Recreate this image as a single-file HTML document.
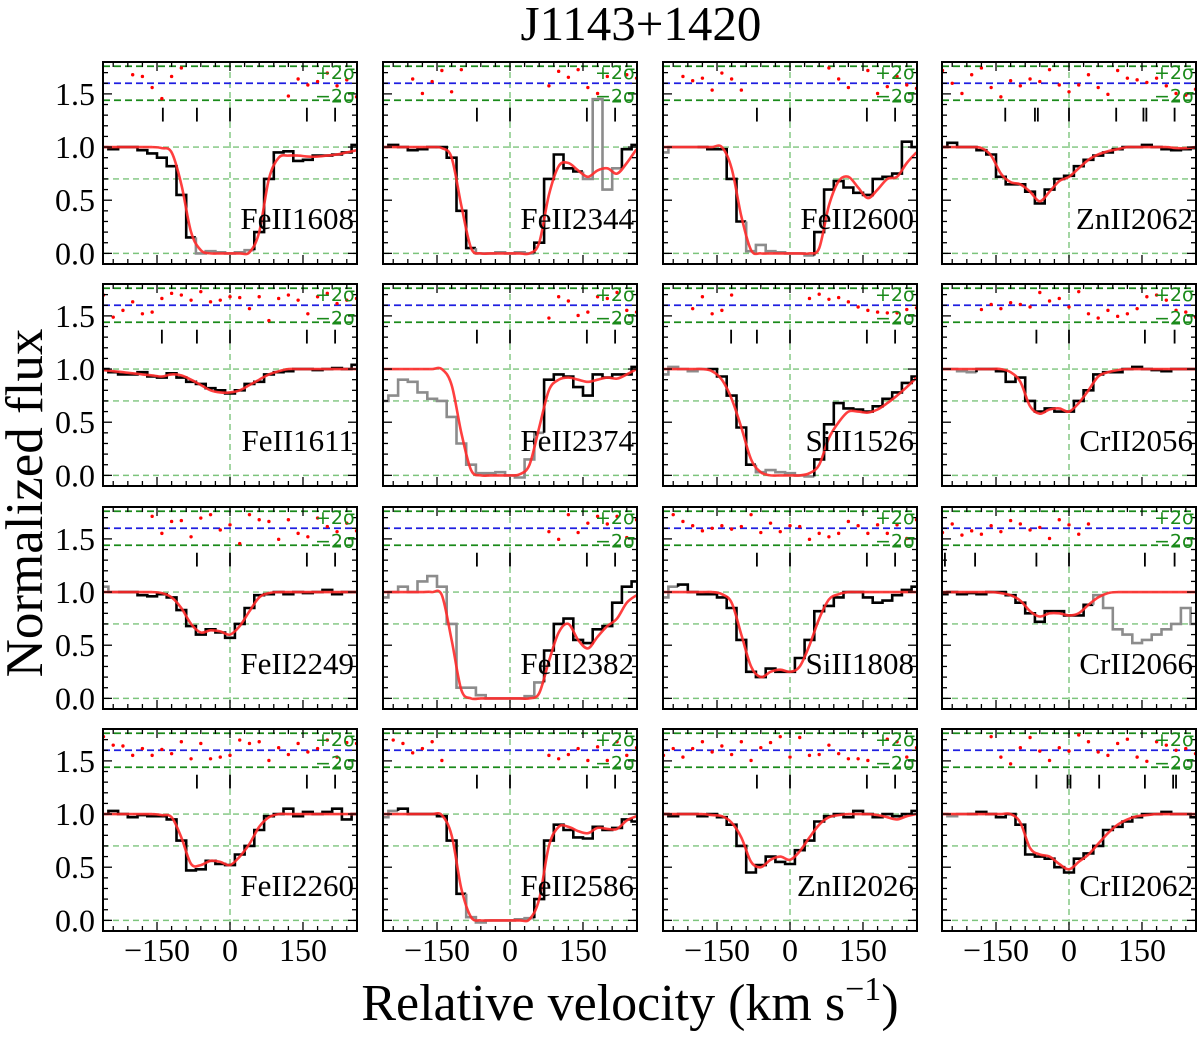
<!DOCTYPE html>
<html><head><meta charset="utf-8"><style>
html,body{margin:0;padding:0;background:#fff;width:1200px;height:1037px;overflow:hidden}
svg{display:block;font-family:"Liberation Serif",serif}
</style></head><body>
<svg id="chart" width="1200" height="1037" viewBox="0 0 1200 1037" xmlns="http://www.w3.org/2000/svg">
<text x="641" y="40" font-size="49" text-anchor="middle">J1143+1420</text>
<text transform="translate(42,503) rotate(-90)" font-size="53" text-anchor="middle">Normalized flux</text>
<text x="630" y="1020" font-size="52" text-anchor="middle">Relative velocity (km s<tspan dy="-20" font-size="34">−1</tspan><tspan dy="20">)</tspan></text>
<g id="panels"></g>
</svg>
<script>
// velocity grid: -260..260 step 20 (27 bins)
const velocities = [-260,-240,-220,-200,-180,-160,-140,-120,-100,-80,-60,-40,-20,0,20,40,60,80,100,120,140,160,180,200,220,240,260];
const ions = ["FeII1608","FeII2344","FeII2600","ZnII2062","FeII1611","FeII2374","SiII1526","CrII2056","FeII2249","FeII2382","SiII1808","CrII2066","FeII2260","FeII2586","ZnII2026","CrII2062"];
const modelFlux = [
[1,1,1,1,1,1,0.99,0.95,0.65,0.2,0.03,0,0,0,0,0.01,0.2,0.7,0.9,0.92,0.92,0.91,0.91,0.92,0.93,0.95,0.97],
[1,1,1,1,1,1,0.99,0.9,0.45,0.05,0,0,0,0,0,0,0.1,0.55,0.82,0.85,0.78,0.72,0.78,0.8,0.75,0.85,0.98],
[1,1,1,1,1,1,1,0.8,0.35,0.03,0,0,0,0,0,0,0.05,0.45,0.68,0.72,0.62,0.52,0.6,0.7,0.72,0.85,0.95],
[1,1,1,1,0.99,0.92,0.75,0.67,0.65,0.58,0.49,0.58,0.68,0.72,0.8,0.88,0.93,0.96,0.98,1,1,1,1,1,0.99,0.99,1],
[0.99,0.98,0.97,0.96,0.95,0.94,0.93,0.95,0.94,0.9,0.85,0.8,0.78,0.78,0.8,0.85,0.9,0.95,0.98,1,1,1,1,1,1,1,1],
[1,1,1,1,1,1,1,0.85,0.4,0.05,0,0,0,0,0.01,0.1,0.45,0.8,0.9,0.92,0.9,0.88,0.9,0.92,0.91,0.95,1],
[1,1,1,1,1,0.98,0.9,0.72,0.45,0.15,0.03,0,0,0,0,0.02,0.1,0.35,0.5,0.6,0.6,0.59,0.62,0.68,0.75,0.83,0.92],
[1,1,1,1,1,1,1,0.97,0.88,0.65,0.58,0.62,0.63,0.6,0.68,0.8,0.93,0.97,0.99,1,1,1,1,1,1,1,1],
[1,1,1,1,1,1,0.99,0.95,0.85,0.7,0.62,0.64,0.63,0.6,0.68,0.82,0.95,0.99,1,1,1,1,1,1,1,1,1],
[1,1,1,1,1,1,0.97,0.55,0.08,0,0,0,0,0,0,0,0.05,0.35,0.62,0.7,0.55,0.47,0.58,0.68,0.75,0.9,0.97],
[1,1,1,1,1,1,0.98,0.9,0.6,0.3,0.2,0.25,0.27,0.25,0.3,0.5,0.75,0.93,0.98,1,1,1,1,1,1,1,1],
[1,1,1,1,1,1,0.99,0.97,0.92,0.82,0.77,0.8,0.8,0.78,0.8,0.88,0.95,0.99,1,1,1,1,1,1,1,1,1],
[1,1,1,1,1,1,0.99,0.97,0.78,0.53,0.52,0.56,0.55,0.52,0.6,0.72,0.88,0.97,1,1,1,1,1,1,1,1,1],
[1,1,1,1,1,1,0.99,0.8,0.3,0.03,0,0,0,0,0,0.01,0.2,0.7,0.88,0.88,0.84,0.82,0.87,0.86,0.86,0.94,0.98],
[1,1,1,1,1,0.99,0.98,0.92,0.78,0.55,0.5,0.57,0.6,0.57,0.65,0.78,0.9,0.97,0.99,1,1,1,0.99,0.97,0.95,0.98,1],
[1,1,1,1,1,1,1,1,0.92,0.68,0.62,0.6,0.53,0.48,0.55,0.62,0.72,0.82,0.9,0.95,0.98,0.99,1,1,1,1,1]
];
const dataFlux = [
[1,0.98,1,1,0.97,0.94,0.9,0.82,0.55,0.15,0,0.02,0.01,0,0.01,0.03,0.2,0.7,0.95,0.96,0.87,0.88,0.92,0.92,0.93,0.95,1.02],
[1,1.02,1,0.97,0.98,1,1,0.9,0.4,0.05,0,0,0.01,0,0.01,0,0.1,0.7,0.93,0.8,0.77,0.7,1.45,0.6,0.8,0.98,1.02],
[0.95,1,1,1,1,0.98,0.98,0.7,0.3,0.02,0.08,0.02,0.01,0,0,-0.02,0.2,0.6,0.68,0.62,0.57,0.55,0.7,0.72,0.75,1.05,1],
[1,1.04,1,1,0.97,0.93,0.72,0.65,0.65,0.58,0.47,0.6,0.7,0.73,0.82,0.88,0.92,0.95,0.98,1,1,1.02,1,0.98,0.97,0.98,0.99],
[1,0.97,0.95,0.95,0.97,0.93,0.92,0.96,0.92,0.88,0.86,0.82,0.8,0.77,0.8,0.86,0.88,0.95,0.97,0.98,1,1,0.99,1,1.01,1,1.04],
[0.7,0.75,0.9,0.88,0.78,0.72,0.7,0.55,0.3,0.1,0.02,0.02,0.03,0,-0.02,0.15,0.4,0.9,0.95,0.93,0.83,0.75,0.95,0.92,0.95,0.95,1.02],
[0.95,1.02,1,0.98,1,1,0.93,0.75,0.45,0.1,0.03,0.05,0.03,0.02,0,-0.01,0.15,0.48,0.68,0.63,0.62,0.6,0.65,0.72,0.78,0.87,0.93],
[1,1,0.98,0.97,1,1,0.98,0.88,0.92,0.7,0.6,0.63,0.6,0.6,0.7,0.8,0.95,0.97,0.97,1,1.02,1,0.99,0.98,1,1,1],
[1.05,1,1,1,0.97,0.96,0.98,0.95,0.83,0.68,0.6,0.65,0.62,0.57,0.7,0.85,0.97,0.98,1,0.98,1,0.99,1,1.02,0.98,1,1],
[0.95,1,1.05,1,1.1,1.15,1.05,0.7,0.1,0.1,0.03,0,0,0,0,0.02,0.15,0.45,0.7,0.75,0.55,0.52,0.65,0.68,0.9,1.05,1.1],
[0.95,1.05,1.07,1,0.98,0.98,0.95,0.85,0.55,0.25,0.2,0.28,0.25,0.25,0.38,0.55,0.82,0.87,0.95,1,1,0.95,0.9,0.92,0.97,1.02,1.05],
[0.98,1,0.98,0.99,0.98,1,1,0.97,0.9,0.8,0.72,0.82,0.82,0.78,0.78,0.88,0.97,0.85,0.65,0.6,0.52,0.55,0.6,0.65,0.7,0.85,0.7],
[1,1.03,1,0.97,0.99,0.98,0.98,0.95,0.75,0.47,0.48,0.56,0.53,0.52,0.62,0.7,0.85,0.98,1,1.05,0.98,1.02,1,1.02,1.05,0.95,1],
[0.97,1.03,1.05,1,1,1,0.98,0.75,0.25,0.03,-0.02,0,0,0,0.01,0.02,0.2,0.75,0.9,0.85,0.78,0.77,0.88,0.85,0.87,0.95,0.93],
[1,0.98,1,1,0.98,1,0.97,0.9,0.7,0.45,0.52,0.6,0.55,0.53,0.66,0.75,0.93,0.98,1,0.97,1.03,1,0.97,1,0.98,1,1.03],
[1,0.98,1,1,1.02,1,0.97,1,0.9,0.62,0.6,0.58,0.5,0.45,0.58,0.63,0.7,0.85,0.88,0.93,0.97,1,1,1.02,1,1,0.97]
];
const grayRanges = [
[[-270,-250],[-70,50]],[[-270,-250],[-70,50],[150,230]],[[-270,-190],[-90,50]],[],
[],[[-270,70]],[[-270,-170],[-60,50]],[[-270,-190]],
[[-270,-230]],[[-270,70]],[[-270,-230]],[[50,270]],
[[-270,-250]],[[-270,-230],[-80,50]],[],[[-270,-210]]
];
const markers = [
[-138,-68,0,158,216],[-68,0,158,216],[-68,0,158,216],[-131,-70,-64,0,97,153,159,217],
[-140,-68,0,158,216],[-68,0,158,216],[-121,-68,0,158,216],[-67,0,156,217],
[-68,0,158,216],[-68,0,158,216],[-68,0,158,216],[-255,-193,-67,0,156,217],
[-68,0,158,216],[-68,0,158,216],[-68,0,158,216],[-67,-3,3,62,156,214,220]
];
const N=null;
const residuals = [
[N,N,N,1.0,0.8,-0.5,-1.8,0.8,1.8,N,N,N,N,N,N,N,N,N,N,-1.5,0.5,-0.2,0.2,1.2,-0.3,0.4,-1.6],
[N,N,N,0.5,-1.2,0.2,1.5,-1.0,1.6,N,N,N,N,N,N,N,N,-0.3,1.4,0.7,1.6,-0.5,-1.2,0.8,N,1.0,0.6],
[N,N,0.8,0.3,0.6,-0.8,1.2,0.5,-0.8,N,N,N,N,N,N,N,N,1.8,0.5,-0.5,N,1.5,-1.2,-0.4,0.8,-0.2,-0.6],
[1.5,0.0,-1.2,1.0,1.8,-0.5,-1.6,0.3,-0.3,0.5,0.2,1.6,-0.2,-1.0,-0.2,1.0,-0.5,-1.3,1.5,0.6,0.4,0.1,0.6,-0.3,-1.2,-1.4,-0.7],
[1.2,-1.4,-0.6,0.4,-1.0,-0.8,0.8,1.4,1.2,0.6,1.6,0.4,0.6,1.0,0.9,-0.4,1.0,-1.8,0.8,1.2,0.6,-1.0,1.0,1.4,0.2,0.6,0.8],
[N,N,N,N,N,N,N,N,N,N,N,N,N,N,N,N,N,-1.5,1.0,0.5,-1.2,-0.8,1.0,0.8,1.5,-0.6,-0.8],
[N,N,N,-0.4,1.0,-1.0,-0.6,1.2,N,N,N,N,N,N,N,0.8,1.3,0.7,0.9,0.4,-0.2,-0.6,-0.8,-0.9,-0.9,-0.5,-0.3],
[N,N,N,N,-0.5,0.1,-0.4,0.3,0.1,-0.2,1.5,0.5,0.8,-0.2,1.6,-1.0,-1.5,-0.6,-1.3,-1.0,-0.4,1.0,1.2,0.6,-0.6,-0.8,-1.4],
[N,N,N,N,N,1.4,-0.6,0.8,0.9,-1.0,1.2,1.6,-0.2,0.4,-1.8,1.6,1.0,0.8,-1.3,1.0,-0.6,-1.0,1.2,0.2,-0.4,0.6,-0.3],
[N,N,N,N,N,N,N,N,N,N,N,N,N,N,N,N,N,-0.4,-1.3,1.6,-0.5,0.6,1.4,0.5,1.4,-1.1,1.0],
[N,1.6,0.8,0.3,-0.3,0.0,0.3,-0.1,0.2,1.6,-0.5,0.6,-0.4,0.3,0.2,-1.3,-0.6,-1.0,-0.6,0.8,0.3,-0.6,0.4,-0.6,0.4,-1.2,1.0],
[-0.5,0.5,-0.8,-0.3,-0.7,0.3,-0.4,0.9,0.5,-0.2,0.1,-1.2,1.0,0.4,-0.7,0.5,N,N,N,N,N,N,N,N,N,N,N],
[1.6,0.6,0.5,-0.6,0.2,-0.6,0.1,-0.4,1.0,-1.0,0.8,-1.0,-0.8,-0.6,1.2,0.8,1.0,-1.2,0.3,-0.5,0.8,-0.2,0.2,1.2,-0.8,0.9,0.8],
[N,1.2,0.8,-0.3,0.2,1.0,-1.2,N,N,N,N,N,N,N,N,N,N,-0.6,-1.0,-0.5,0.2,-1.2,0.4,-1.2,1.0,-0.6,0.3],
[-0.6,0.2,-0.8,0.2,1.0,-0.2,0.5,-0.5,1.0,-1.2,0.3,0.9,1.6,-0.8,1.5,-0.6,-0.5,0.6,-0.4,-1.0,-1.0,-1.2,N,1.3,1.0,-0.8,0.3],
[N,N,N,N,N,1.6,-0.8,-1.6,0.3,1.5,-0.1,-1.2,0.3,-0.1,1.8,1.0,-0.2,-0.6,0.8,1.3,-0.8,-1.3,1.0,0.6,0.0,0.2,-0.4]
];
const xTickLabels = [-150,0,150];
const yTickLabels = [0.0,0.5,1.0,1.5];

const NS="http://www.w3.org/2000/svg";
const root=document.getElementById('panels');
const colX=[103,383,663,942], rowY=[62,284,507,729], PW=254, PH=202;
const VMIN=-261, VMAX=261, FMIN=-0.1, FMAX=1.8;
function mk(tag,attrs,parent){const e=document.createElementNS(NS,tag);for(const k in attrs)e.setAttribute(k,attrs[k]);(parent||root).appendChild(e);return e;}
function isGray(p,v){return grayRanges[p].some(r=>v>=r[0]&&v<=r[1]);}

for(let p=0;p<16;p++){
  const c=p%4, r=Math.floor(p/4), X0=colX[c], Y0=rowY[r];
  const sx=v=>X0+(v-VMIN)/(VMAX-VMIN)*PW;
  const sy=f=>Y0+(FMAX-f)/(FMAX-FMIN)*PH;
  const g=mk('g',{});
  
  
  const cp=mk('clipPath',{id:'cp'+p},g); mk('rect',{x:X0,y:Y0,width:PW,height:PH},cp);
  const inner=mk('g',{'clip-path':'url(#cp'+p+')'},g);
  [[1.0,'#7cc47c'],[0.7,'#7cc47c'],[0,'#7cc47c']].forEach(([f,col])=>{
    const l=mk('line',{x1:X0,x2:X0+PW,y1:sy(f),y2:sy(f),stroke:col,'stroke-width':1.4,'stroke-dasharray':'6,4'},inner);
    
    
  });
  const vz=mk('line',{x1:sx(0),x2:sx(0),y1:Y0,y2:Y0+PH,stroke:'#7cc47c','stroke-width':1.4,'stroke-dasharray':'6,4'},inner);
  
  
  [[1.76,'#1a8a1a'],[1.44,'#1a8a1a'],[1.6,'#1f1fe0']].forEach(([f,col])=>{
    const l=mk('line',{x1:X0,x2:X0+PW,y1:sy(f),y2:sy(f),stroke:col,'stroke-width':1.8,'stroke-dasharray':'7,4'},inner);
    
    
  });
  const step=20;
  let segs=[];
  for(let i=0;i<velocities.length;i++){
    const v=velocities[i], gr=isGray(p,v);
    const x1=sx(v-step/2), x2=sx(v+step/2), y=sy(dataFlux[p][i]);
    if(!segs.length||segs[segs.length-1].gray!==gr){
      const prev=segs.length?segs[segs.length-1].pts[segs[segs.length-1].pts.length-1]:null;
      segs.push({gray:gr,pts:prev?[[prev[0],prev[1]]]:[]});
    }
    const s=segs[segs.length-1];
    s.pts.push([x1,y]); s.pts.push([x2,y]);
  }
  segs.forEach(s=>{
    const d='M'+s.pts.map(q=>q[0].toFixed(1)+','+q[1].toFixed(1)).join('L');
    const e=mk('path',{d:d,fill:'none',stroke:s.gray?'#8c8c8c':'#000','stroke-width':2.6,'stroke-linejoin':'miter'},inner);
    
    
  });
  const mp=velocities.map((v,i)=>[sx(v),sy(modelFlux[p][i])]);
  let d='M'+mp[0][0]+','+mp[0][1];
  for(let i=0;i<mp.length-1;i++){
    const p0=mp[Math.max(0,i-1)],p1=mp[i],p2=mp[i+1],p3=mp[Math.min(mp.length-1,i+2)];
    const c1=[p1[0]+(p2[0]-p0[0])/6,p1[1]+(p2[1]-p0[1])/6];
    const c2=[p2[0]-(p3[0]-p1[0])/6,p2[1]-(p3[1]-p1[1])/6];
    d+='C'+c1.map(n=>n.toFixed(1)).join(',')+' '+c2.map(n=>n.toFixed(1)).join(',')+' '+p2[0].toFixed(1)+','+p2[1].toFixed(1);
  }
  const m=mk('path',{d:d,fill:'none',stroke:'#ff2a2a','stroke-width':2.6,'stroke-opacity':0.9},inner);
  
  
  residuals[p].forEach((rv,i)=>{
    if(rv===null)return;
    const dot=mk('circle',{cx:sx(velocities[i]),cy:sy(1.6+rv*0.08),r:1.7,fill:'#ff0000'},inner);
    
    
  });
  markers[p].forEach(v=>{
    const t=mk('line',{x1:sx(v),x2:sx(v),y1:sy(1.37),y2:sy(1.24),stroke:'#000','stroke-width':1.8},g);
    
    
  });
  const tk=mk('g',{stroke:'#000','stroke-width':1.3},g);
  
  
  for(let v=-240;v<=240;v+=30){
    const L=(v%150===0)?9:5;
    mk('line',{x1:sx(v),x2:sx(v),y1:Y0+PH,y2:Y0+PH-L},tk);
    mk('line',{x1:sx(v),x2:sx(v),y1:Y0,y2:Y0+L},tk);
  }
  for(let k=-1;k<=18;k++){
    const f=k/10, L=(k%5===0)?9:5;
    if(f<=FMIN||f>=FMAX)continue;
    mk('line',{x1:X0,x2:X0+L,y1:sy(f),y2:sy(f)},tk);
    mk('line',{x1:X0+PW,x2:X0+PW-L,y1:sy(f),y2:sy(f)},tk);
  }
  const fr=mk('rect',{x:X0,y:Y0,width:PW,height:PH,fill:'none',stroke:'#000','stroke-width':2},g);
  
  
  const lab=mk('text',{x:X0+PW-3,y:sy(0.23),'font-size':31,'text-anchor':'end',fill:'#000'},g);
  lab.textContent=ions[p];
  
  
  const sp=mk('text',{x:X0+PW-2,y:sy(1.64),'font-size':19,'text-anchor':'end',fill:'#1a8a1a','font-family':'DejaVu Sans, sans-serif'},g);
  sp.textContent='+2σ';
  
  
  const sm=mk('text',{x:X0+PW-2,y:sy(1.42),'font-size':19,'text-anchor':'end',fill:'#1a8a1a','font-family':'DejaVu Sans, sans-serif'},g);
  sm.textContent='−2σ';
  
  
  if(c===0){
    yTickLabels.forEach(f=>{
      const t=mk('text',{x:X0-8,y:sy(f)+11,'font-size':32,'text-anchor':'end'},g);
      t.textContent=f.toFixed(1);
      
      
    });
  }
  if(r===3){
    xTickLabels.forEach(v=>{
      const t=mk('text',{x:sx(v),y:Y0+PH+30,'font-size':32,'text-anchor':'middle'},g);
      t.textContent=(v<0?'−':'')+Math.abs(v);
      
      
    });
  }
}
</script>
</body></html>
